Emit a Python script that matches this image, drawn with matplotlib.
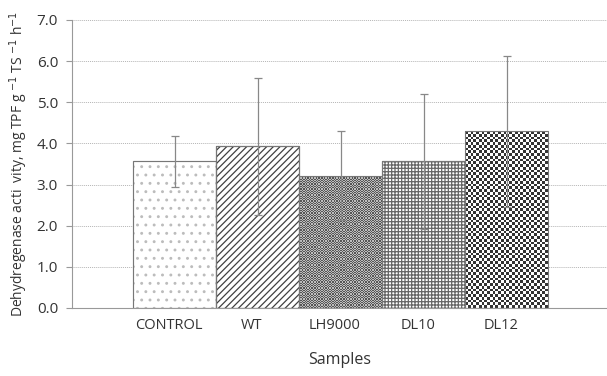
import numpy as np
import matplotlib
matplotlib.use("Agg")
import matplotlib.pyplot as plt
from matplotlib.colors import ListedColormap

plt.rcParams['font.family'] = ['Open Sans', 'DejaVu Sans']
plt.rcParams['hatch.linewidth'] = 0.9

samples = ["CONTROL", "WT", "LH9000", "DL10", "DL12"]
activity = [3.56, 3.93, 3.21, 3.56, 4.29]
errors = [0.62, 1.66, 1.08, 1.64, 1.84]
yticks = [0.0, 1.0, 2.0, 3.0, 4.0, 5.0, 6.0, 7.0]

txt = '#333333'
fig = plt.figure(figsize=(6.07, 3.76), dpi=100)
ax = fig.add_axes([0.1186, 0.181, 0.8814, 0.766])

x = np.arange(len(samples))
bars = ax.bar(x, activity, width=1.0, facecolor='white', edgecolor='#777777',
              linewidth=0.8, zorder=2)

# hatch fills
for b, h, col in zip(bars, ['..', '/////', None, '+++++', None],
                     ['#bcbcbc', '#404040', None, '#666666', None]):
    if h:
        b.set_hatch(h)
        b.set_edgecolor(col)

# checker fills drawn as images clipped to the bar
def checker(bar, n_x, n_y, dark, light):
    x0, y0 = bar.get_x(), bar.get_y()
    w, h = bar.get_width(), bar.get_height()
    ii, jj = np.meshgrid(np.arange(n_x), np.arange(n_y))
    img = ((ii + jj) % 2).astype(float)
    im = ax.imshow(img, extent=[x0, x0 + w, y0, y0 + h], origin='lower',
                   cmap=ListedColormap([light, dark]), interpolation='nearest',
                   aspect='auto', zorder=2)
    im.set_clip_path(bar)
    bar.set_edgecolor('#777777')
    bar.set_facecolor('none')
    bar.set_zorder(3)

checker(bars[2], 60, 110, '#555555', '#bdbdbd')
checker(bars[4], 30, 64, '#333333', '#ffffff')

# outline for hatched bars
for b in [bars[0], bars[1], bars[3]]:
    ax.bar(b.get_x() + b.get_width() / 2, b.get_height(), width=b.get_width(),
           facecolor='none', edgecolor='#777777', linewidth=0.8, zorder=3)

ax.errorbar(x, activity, yerr=errors, fmt='none', ecolor='#888888',
            elinewidth=0.9, capsize=3, capthick=0.9, zorder=4)

ax.set_xlim(-1.24, 5.21)
ax.set_ylim(0, 7.0)
ax.set_yticks(yticks)
ax.set_yticklabels([f"{v:.1f}" for v in yticks], fontsize=11, color=txt)
ax.set_xticks(x - 0.07)
ax.set_xticklabels(samples, fontsize=10.5, color=txt)
ax.tick_params(axis='x', length=0, pad=7)
ax.tick_params(axis='y', length=4, color='#999999', pad=6)

ax.yaxis.grid(True, linestyle=(0, (1, 1)), color='#b5b5b5', linewidth=0.7, zorder=0)
ax.set_axisbelow(True)
for s in ['top', 'right']:
    ax.spines[s].set_visible(False)
ax.spines['left'].set_color('#999999')
ax.spines['bottom'].set_color('#999999')

ax.set_xlabel("Samples", fontsize=11.5, color=txt, labelpad=14)
ax.set_ylabel("Dehydregenase acti  vity, mg TPF g $^{-1}$ TS $^{-1}$ h$^{-1}$",
              fontsize=10, color=txt, labelpad=5)

fig.savefig("out.png", dpi=100)
